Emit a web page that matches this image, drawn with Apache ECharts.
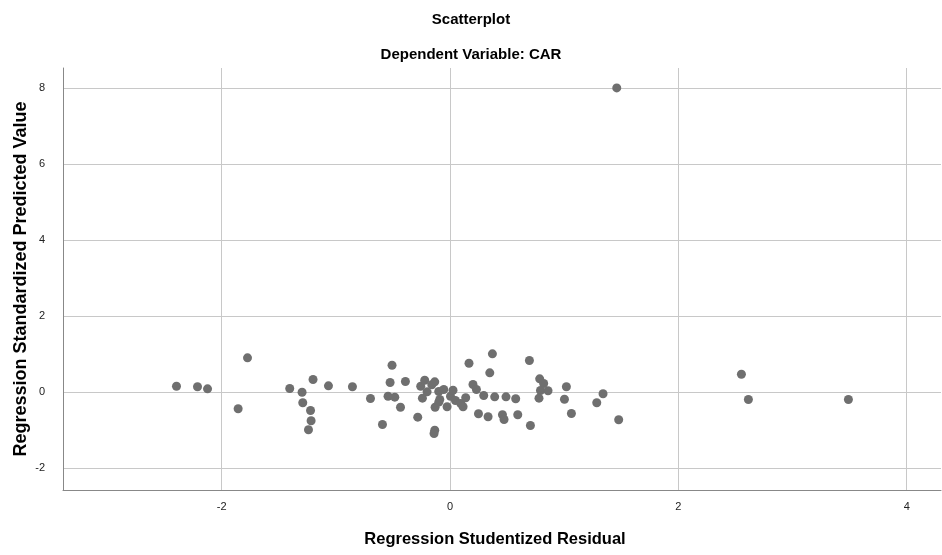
<!DOCTYPE html>
<html>
<head>
<meta charset="utf-8">
<script src="https://cdn.jsdelivr.net/npm/echarts@6/dist/echarts.min.js"></script>
<style>html,body{margin:0;padding:0;background:#fff;}#c{width:942px;height:555px;}</style>
</head>
<body>
<div id="c"></div>
<script>
const residuals = [-2.396,-2.212,-2.124,-1.774,-1.856,-1.404,-1.296,-1.200,-1.065,-1.290,-1.222,-1.217,-1.240,
 -0.855,-0.697,-0.592,-0.508,-0.525,-0.543,-0.484,-0.434,-0.391,-0.283,-0.242,-0.257,-0.222,-0.201,-0.160,-0.134,
 -0.131,-0.134,-0.140,-0.099,-0.090,-0.099,-0.055,-0.026,0.004,0.026,0.047,0.094,0.114,0.137,0.166,0.201,0.231,
 0.295,0.348,0.371,0.249,0.333,0.391,0.459,0.473,0.490,0.575,0.593,0.695,0.704,0.785,0.820,0.792,0.858,0.779,
 1.019,1.002,1.063,1.285,1.340,1.477,1.460,2.552,2.613,3.489];
const predicted = [0.157,0.142,0.089,0.903,-0.436,0.097,0.000,0.333,0.168,-0.278,-0.480,-0.751,-0.987,
 0.142,-0.165,-0.848,0.709,0.255,-0.105,-0.131,-0.394,0.281,-0.656,-0.157,0.157,0.315,0.010,0.194,0.273,
 -0.394,-0.997,-1.084,0.018,-0.192,-0.262,0.071,-0.383,-0.105,0.052,-0.218,-0.297,-0.383,-0.147,0.761,0.202,0.071,
 -0.087,0.509,1.008,-0.567,-0.646,-0.121,-0.593,-0.717,-0.121,-0.173,-0.593,0.832,-0.874,0.352,0.228,0.045,0.037,-0.157,
 0.142,-0.184,-0.559,-0.278,-0.042,-0.724,7.997,0.472,-0.192,-0.192];
const xTicks = [-2, 0, 2, 4];
const yTicks = [-2, 0, 2, 4, 6, 8];

const points = residuals.map((x, i) => [x, predicted[i]]);
const chart = echarts.init(document.getElementById('c'), null, {renderer: 'canvas'});
const font = 'Liberation Sans, Arial, sans-serif';
chart.setOption({
  animation: false,
  backgroundColor: '#fff',
  title: [
    {text: 'Scatterplot', left: 'center', top: 7, textStyle: {fontFamily: font, fontSize: 15, fontWeight: 'bold', color: '#000'}},
    {text: 'Dependent Variable: CAR', left: 'center', top: 42, textStyle: {fontFamily: font, fontSize: 15, fontWeight: 'bold', color: '#000'}}
  ],
  grid: {left: 63, right: 1, top: 68, bottom: 65, containLabel: false, outerBoundsMode: 'none'},
  xAxis: {
    type: 'value', min: -3.39, max: 4.3,
    name: 'Regression Studentized Residual', nameLocation: 'middle', nameGap: 41,
    nameTextStyle: {fontFamily: font, fontSize: 16.5, fontWeight: 'bold', color: '#000', padding: [0, 14, 0, 0]},
    axisLine: {show: true, onZero: false, lineStyle: {color: '#888', width: 1}},
    axisTick: {show: false, customValues: xTicks},
    axisLabel: {customValues: xTicks, fontFamily: font, fontSize: 11, color: '#222', margin: 11},
    splitLine: {show: true, lineStyle: {color: '#c8c8c8', width: 1}}
  },
  yAxis: {
    type: 'value', min: -2.57, max: 8.52,
    name: 'Regression Standardized Predicted Value', nameLocation: 'middle', nameGap: 33,
    nameMoveOverlap: false,
    nameTextStyle: {fontFamily: font, fontSize: 18, fontWeight: 'bold', color: '#000'},
    axisLine: {show: true, onZero: false, lineStyle: {color: '#888', width: 1}},
    axisTick: {show: false, customValues: yTicks},
    axisLabel: {customValues: yTicks, fontFamily: font, fontSize: 11, color: '#222', margin: 18},
    splitLine: {show: true, lineStyle: {color: '#c8c8c8', width: 1}}
  },
  series: [{
    type: 'scatter', data: points, symbolSize: 9,
    itemStyle: {color: '#6f6f6f', opacity: 1}
  }]
});
</script>
</body>
</html>
